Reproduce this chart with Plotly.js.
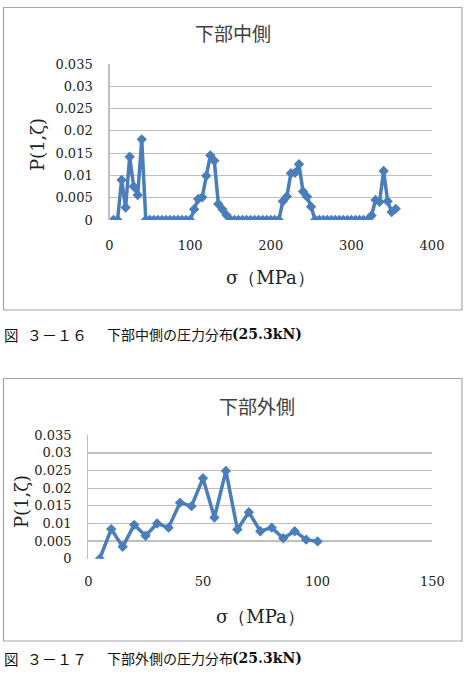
<!DOCTYPE html>
<html>
<head>
<meta charset="utf-8">
<script src="https://cdn.plot.ly/plotly-3.0.1.min.js"></script>
<style>html,body{margin:0;padding:0;background:#fff;}</style>
</head>
<body>
<div id="chart" style="width:469px;height:682px;"></div>
<script>
// Chart 1: 下部中側
const sigmaMid = [5,10,15,20,25,30,35,40,45,50,55,60,65,70,75,80,85,90,95,100,
  105,110,115,120,125,130,135,140,145,150,155,160,165,170,175,180,185,190,195,200,
  205,210,215,220,225,230,235,240,245,250,255,260,265,270,275,280,285,290,295,300,
  305,310,315,320,325,330,335,340,345,350,355];
const pMid = [0,0,0.009,0.0028,0.0142,0.0075,0.0056,0.0181,0,0,0,0,0,0,0,0,0,0,0,0,
  0.0024,0.0047,0.0051,0.0099,0.0145,0.0133,0.0036,0.0024,0.0011,0,0,0,0,0,0,0,0,0,0,0,
  0,0,0.0042,0.0053,0.0105,0.0106,0.0125,0.0064,0.0052,0.003,0,0,0,0,0,0,0,0,0,0,
  0,0,0,0,0.001,0.0045,0.0041,0.011,0.0042,0.0018,0.0025];
// Chart 2: 下部外側
const sigmaOut = [5,10,15,20,25,30,35,40,45,50,55,60,65,70,75,80,85,90,95,100];
const pOut = [0,0.0084,0.0034,0.0096,0.0065,0.0100,0.0088,0.0159,0.0149,0.0228,
  0.0117,0.0249,0.0083,0.0132,0.0078,0.0088,0.0058,0.0078,0.0054,0.0049];

const title1 = "下部中側";
const title2 = "下部外側";
const xTitle = "σ（MPa）";
const yTitle = "P(1,ζ)";
const capFig = "図";
const capNum1 = "３－１６";
const capNum2 = "３－１７";
const capText1 = "下部中側の圧力分布";
const capText2 = "下部外側の圧力分布";
const capLoad = "(25.3kN)";

const W = 469, H = 682;
const px = x => x / W;
const py = y => (H - y) / H;

const blue = '#4a7ebb';
const serif = 'DejaVu Serif';
const cjk = 'Noto Sans CJK JP';
const grid = '#bfbfbf';

const traces = [
  {x: sigmaMid, y: pMid, xaxis: 'x', yaxis: 'y', type: 'scatter', mode: 'lines+markers',
   line: {color: blue, width: 3.5}, marker: {symbol: 'diamond', size: 8, color: blue}},
  {x: sigmaOut, y: pOut, xaxis: 'x2', yaxis: 'y2', type: 'scatter', mode: 'lines+markers',
   line: {color: blue, width: 3.5}, marker: {symbol: 'diamond', size: 8, color: blue}}
];

const tickFont = {family: serif, size: 13, color: '#222'};
function xa(domain, range, dtick, anchor, standoff) {
  return {domain: domain, range: range, dtick: dtick, anchor: anchor, showgrid: false,
    zeroline: false, showline: false, ticks: '', tickfont: tickFont, ticklabelstandoff: standoff,
    fixedrange: true};
}
function ya(domain, anchor) {
  return {domain: domain, range: [0, 0.035], dtick: 0.005, anchor: anchor, showgrid: true,
    gridcolor: grid, gridwidth: 1.2, zeroline: false, showline: true, linecolor: grid, linewidth: 1.2,
    ticks: '', tickfont: tickFont, ticklabelstandoff: 13, fixedrange: true};
}

function ann(text, x, y, font, opts) {
  return Object.assign({text: text, xref: 'paper', yref: 'paper', x: px(x), y: py(y), showarrow: false,
    font: font, xanchor: 'center', yanchor: 'middle'}, opts || {});
}
function caption(y, num, text) {
  return [
    ann(capFig, 2, y, {family: cjk, size: 14.5, color: '#111'}, {xanchor: 'left'}),
    ann(num, 25, y, {family: cjk, size: 15, color: '#111'}, {xanchor: 'left'}),
    ann(text, 104.5, y, {family: cjk, size: 14, color: '#111'}, {xanchor: 'left'}),
    ann('<b>' + capLoad + '</b>', 230, y, {family: serif, size: 14, color: '#111'}, {xanchor: 'left'})
  ];
}

const layout = {
  width: W, height: H, margin: {l: 0, r: 0, t: 0, b: 0},
  paper_bgcolor: '#fff', plot_bgcolor: '#fff', showlegend: false,
  xaxis: xa([px(109.5), px(432)], [0, 400], 100, 'y', 16),
  yaxis: ya([py(220), py(64)], 'x'),
  xaxis2: xa([px(88.3), px(432.3)], [0, 150], 50, 'y2', 13),
  yaxis2: ya([py(558.7), py(435.3)], 'x2'),
  shapes: [
    {type: 'rect', xref: 'paper', yref: 'paper', x0: px(3.5), x1: px(462), y0: py(7.5), y1: py(310),
     line: {color: '#a6a6a6', width: 1.2}},
    {type: 'rect', xref: 'paper', yref: 'paper', x0: px(3.5), x1: px(462), y0: py(378.5), y1: py(641),
     line: {color: '#a6a6a6', width: 1.2}}
  ],
  annotations: [
    ann(title1, 233, 33, {family: cjk, size: 19, color: '#404040'}),
    ann(xTitle, 270, 277, {family: serif, size: 18, color: '#222'}),
    ann(yTitle, 37, 145, {family: serif, size: 18, color: '#222'}, {textangle: -90}),
    ann(title2, 257, 405, {family: cjk, size: 19, color: '#404040'}),
    ann(xTitle, 260, 616, {family: serif, size: 18, color: '#222'}),
    ann(yTitle, 21, 502, {family: serif, size: 18, color: '#222'}, {textangle: -90})
  ].concat(caption(334, capNum1, capText1), caption(658, capNum2, capText2))
};

Plotly.newPlot('chart', traces, layout, {staticPlot: true, displayModeBar: false});
</script>
</body>
</html>
